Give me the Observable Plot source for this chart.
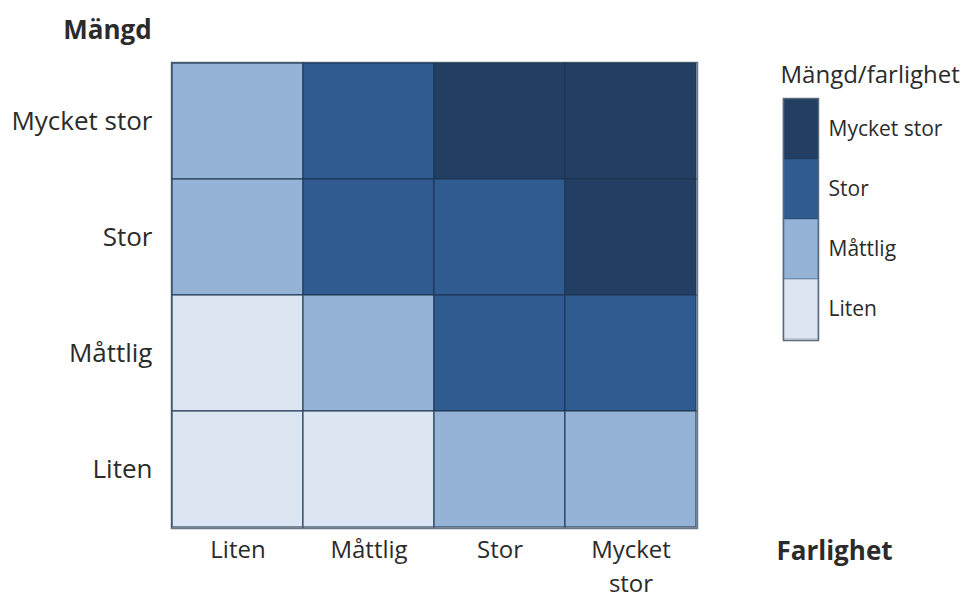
<!DOCTYPE html>
<html><head><meta charset="utf-8">
<script src="https://cdn.jsdelivr.net/npm/d3@7"></script>
<script src="https://cdn.jsdelivr.net/npm/@observablehq/plot@0.6"></script>
<style>
body{margin:0;background:#fff;}
#wrap{position:relative;width:974px;height:601px;font-family:"Open Sans",sans-serif;}
#leg{position:absolute;left:760px;top:50px;}
#main{position:absolute;left:0;top:0;}
</style></head><body>
<div id="wrap"><div id="main"></div><div id="leg"></div></div>
<script>
const levels = ["Liten", "Måttlig", "Stor", "Mycket stor"];
const colors = ["#dce6f2", "#95b3d7", "#2f5b91", "#223f63"];
const farlighet = ["Liten", "Måttlig", "Stor", "Mycket stor"];
const mangd = ["Mycket stor", "Stor", "Måttlig", "Liten"];
const rowMycketStor = ["Måttlig", "Stor", "Mycket stor", "Mycket stor"];
const rowStor = ["Måttlig", "Stor", "Stor", "Mycket stor"];
const rowMattlig = ["Liten", "Måttlig", "Stor", "Stor"];
const rowLiten = ["Liten", "Liten", "Måttlig", "Måttlig"];
const rows = [rowMycketStor, rowStor, rowMattlig, rowLiten];

const cells = [];
mangd.forEach((m, i) => farlighet.forEach((f, j) => cells.push({mangd: m, farlighet: f, risk: rows[i][j]})));

const colorScale = {type: "ordinal", domain: levels, range: colors};
const font = '"Open Sans", sans-serif';
const ink = "#2b2b2b";

const main = Plot.plot({
  width: 974, height: 601,
  marginLeft: 171, marginRight: 277, marginTop: 62, marginBottom: 73,
  style: {fontFamily: font, color: ink},
  x: {domain: farlighet, padding: 0, label: null},
  y: {domain: mangd, padding: 0, label: null},
  color: colorScale,
  marks: [
    Plot.cell(cells, {x: "farlighet", y: "mangd", fill: "risk", stroke: "#1d3350", strokeOpacity: 0.7, strokeWidth: 1.5}),
    Plot.frame({stroke: "#2a3f5a", strokeOpacity: 0.7, strokeWidth: 1.5}),
    Plot.axisY({tickSize: 0, tickPadding: 19, fontSize: 26, label: null, fill: ink}),
    Plot.axisX({tickSize: 0, tickPadding: 6, fontSize: 24, label: null, lineHeight: 1.4, fill: ink,
      tickFormat: d => d === "Mycket stor" ? "Mycket\nstor" : d}),
    Plot.text(["Mängd"], {frameAnchor: "top-left", lineAnchor: "middle", dx: -64, dy: -32, text: d => d, fontSize: 26, fontWeight: "bold", textAnchor: "middle", fill: ink}),
    Plot.text(["Farlighet"], {frameAnchor: "bottom-right", lineAnchor: "middle", dx: 137, dy: 23, text: d => d, fontSize: 26, fontWeight: "bold", textAnchor: "middle", fill: ink})
  ]
});
document.getElementById("main").append(main);

const legLevels = levels.slice().reverse();
const leg = Plot.plot({
  width: 214, height: 300,
  marginLeft: 23, marginRight: 156, marginTop: 48, marginBottom: 10,
  style: {fontFamily: font, color: ink, overflow: "visible"},
  y: {domain: legLevels, padding: 0, axis: null},
  color: colorScale,
  marks: [
    Plot.cell(legLevels, {y: d => d, fill: d => d, stroke: "#1d3350", strokeOpacity: 0.35, strokeWidth: 1}),
    Plot.frame({stroke: "#5a6b80", strokeWidth: 1.5}),
    Plot.text(legLevels, {y: d => d, frameAnchor: "right", dx: 10, textAnchor: "start", text: d => d, fontSize: 21, fill: ink}),
    Plot.text(["Mängd/farlighet"], {frameAnchor: "top-left", lineAnchor: "middle", dx: -3, dy: -23, textAnchor: "start", text: d => d, fontSize: 24, fill: ink})
  ]
});
document.getElementById("leg").append(leg);
</script>
</body></html>
